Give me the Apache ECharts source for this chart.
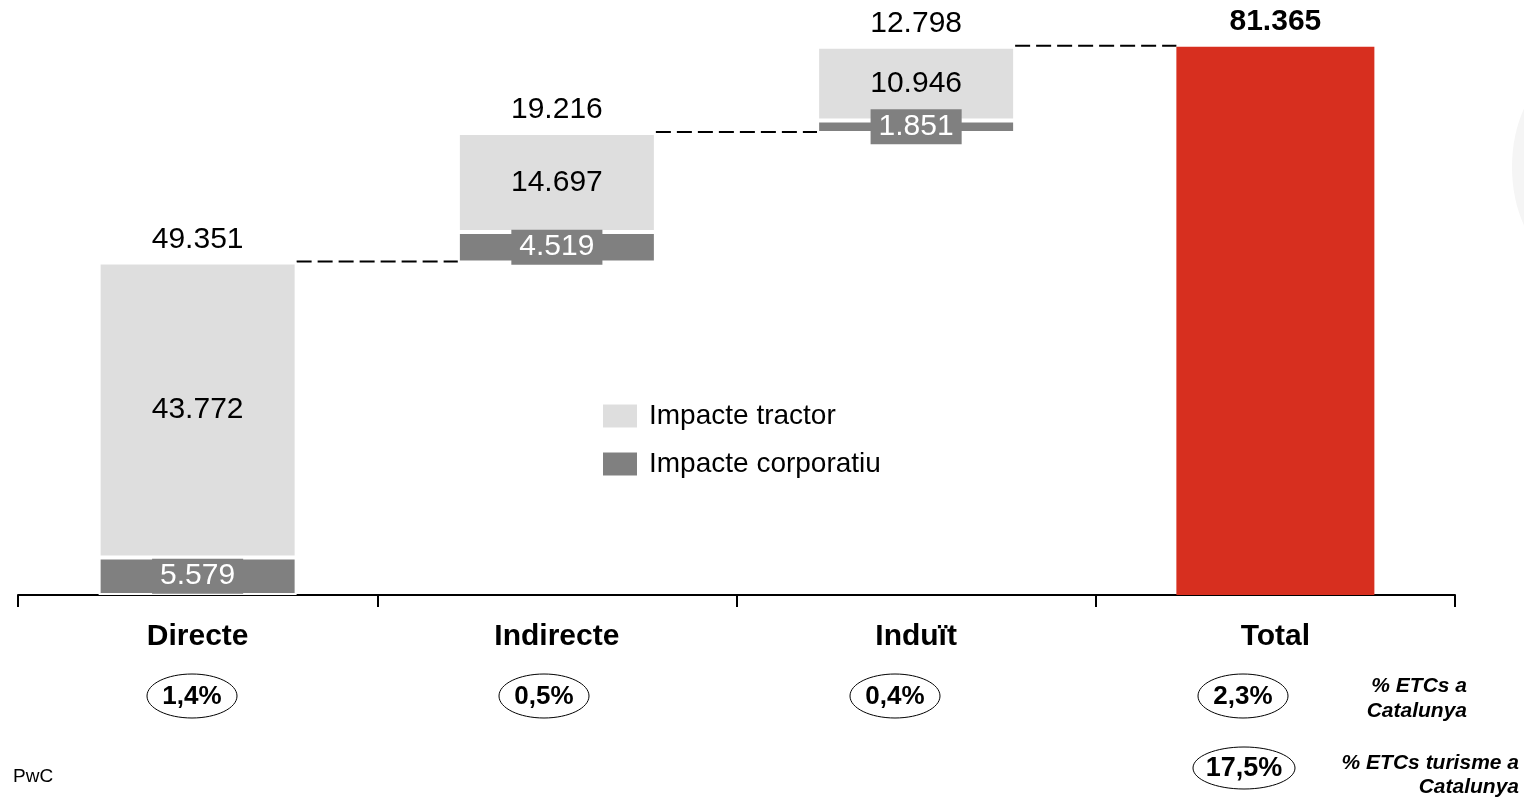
<!DOCTYPE html>
<html>
<head>
<meta charset="utf-8">
<script src="https://cdn.jsdelivr.net/npm/echarts@6/dist/echarts.min.js"></script>
<style>
html,body{margin:0;padding:0;background:#fff;}
#c{width:1524px;height:798px;}
</style>
</head>
<body>
<div id="c"></div>
<script>
// ---- data ----
var categories = ['Directe', 'Indirecte', 'Induït', 'Total'];
var corporatiu = [5579, 4519, 1851, null];
var tractor = [43772, 14697, 10946, null];
var stepTotals = [49351, 19216, 12798];
var totalValue = [null, null, null, 81365];
var pctLabels = ['1,4%', '0,5%', '0,4%', '2,3%'];
var tourismPct = '17,5%';
var sideNotes = ['% ETCs a\nCatalunya', '% ETCs turisme a\nCatalunya'];
var source = 'PwC';

// ---- derived ----
function fmt(v){ return String(v).replace(/\B(?=(\d{3})+(?!\d))/g, '.'); }
var base = [];
var running = 0;
for (var i = 0; i < categories.length; i++) {
  if (i < stepTotals.length) { base.push(running); running += stepTotals[i]; }
  else base.push(0);
}
var connectorData = stepTotals.map(function(v, i){ return [i, base[i] + v, v]; });

var FONT = '"Liberation Sans", Arial, sans-serif';
var BAR_W = 198;

var chart = echarts.init(document.getElementById('c'), null, {renderer: 'canvas'});
var option = {
  animation: false,
  backgroundColor: '#fff',
  textStyle: {fontFamily: FONT},
  grid: {left: 18, right: 69, top: 2, bottom: 203},
  legend: {
    orient: 'vertical', left: 596, top: 397,
    itemWidth: 36, itemHeight: 25, itemGap: 20,
    icon: 'rect',
    data: ['Impacte tractor', 'Impacte corporatiu'],
    textStyle: {fontSize: 28, color: '#000', fontFamily: FONT, padding: [0, 0, 0, 6]}
  },
  xAxis: {
    type: 'category', data: categories,
    axisLine: {show: true, lineStyle: {color: '#000', width: 2}},
    axisTick: {show: true, alignWithLabel: false, interval: 0, length: 12, lineStyle: {color: '#000', width: 2}},
    axisLabel: {fontSize: 30, fontWeight: 'bold', color: '#000', margin: 27, fontFamily: FONT}
  },
  yAxis: {type: 'value', min: 0, max: 88000, show: false},
  series: [
    {
      name: 'base', type: 'bar', stack: 'w', barWidth: BAR_W, silent: true,
      itemStyle: {color: 'transparent'}, data: base
    },
    {
      name: 'Impacte corporatiu', type: 'bar', stack: 'w', barWidth: BAR_W,
      itemStyle: {color: '#808080', borderColor: '#fff', borderWidth: 2},
      label: {
        show: true, position: 'inside', color: '#fff', fontSize: 30, fontFamily: FONT,
        backgroundColor: '#808080', padding: [3, 8, 2, 8],
        formatter: function(p){ return fmt(p.value); }
      },
      data: corporatiu
    },
    {
      name: 'Impacte tractor', type: 'bar', stack: 'w', barWidth: BAR_W,
      itemStyle: {color: '#dedede', borderColor: '#fff', borderWidth: 2},
      label: {
        show: true, position: 'inside', color: '#000', fontSize: 30, fontFamily: FONT,
        formatter: function(p){ return fmt(p.value); }
      },
      data: tractor
    },
    {
      name: 'Total', type: 'bar', stack: 'w', barWidth: BAR_W,
      itemStyle: {color: '#d72f1f'},
      label: {
        show: true, position: 'top', distance: 10, color: '#000', fontSize: 30, fontWeight: 'bold', fontFamily: FONT,
        formatter: function(p){ return fmt(p.value); }
      },
      data: totalValue
    },
    {
      name: 'connectors', type: 'custom', silent: true,
      renderItem: function(params, api){
        var idx = api.value(0), top = api.value(1), lbl = api.value(2);
        var p = api.coord([idx, top]);
        var band = api.size([1, 0])[0];
        var half = BAR_W / 2;
        return {
          type: 'group',
          children: [
            {type: 'text', style: {text: fmt(lbl), x: p[0], y: p[1] - 8, align: 'center', verticalAlign: 'bottom', font: '30px ' + FONT, fill: '#000'}},
            {type: 'line', shape: {x1: p[0] + half, y1: p[1] - 1, x2: p[0] + band - half, y2: p[1] - 1}, style: {stroke: '#000', lineWidth: 2, lineDash: [15, 6]}}
          ]
        };
      },
      data: connectorData
    }
  ],
  graphic: []
};
chart.setOption(option);

// annotations under the axis
var ellX = [192, 544, 895, 1243];
var g = [];
g.push({type: 'ellipse', shape: {cx: 1580, cy: 167, rx: 68, ry: 103}, style: {fill: '#f5f5f5'}, z: -10});
pctLabels.forEach(function(t, i){
  g.push({type: 'ellipse', shape: {cx: ellX[i], cy: 696, rx: 45, ry: 22}, style: {fill: 'none', stroke: '#000', lineWidth: 1}});
  g.push({type: 'text', style: {text: t, x: ellX[i], y: 697, align: 'center', verticalAlign: 'middle', font: 'bold 26px ' + FONT, fill: '#000'}});
});
g.push({type: 'ellipse', shape: {cx: 1244, cy: 768, rx: 51, ry: 21}, style: {fill: 'none', stroke: '#000', lineWidth: 1}});
g.push({type: 'text', style: {text: tourismPct, x: 1244, y: 769, align: 'center', verticalAlign: 'middle', font: 'bold 27px ' + FONT, fill: '#000'}});
g.push({type: 'text', style: {text: sideNotes[0], x: 1467, y: 699, align: 'right', verticalAlign: 'middle', font: 'italic bold 21px ' + FONT, lineHeight: 25, fill: '#000'}});
g.push({type: 'text', style: {text: sideNotes[1], x: 1519, y: 775, align: 'right', verticalAlign: 'middle', font: 'italic bold 21px ' + FONT, lineHeight: 24, fill: '#000'}});
g.push({type: 'text', style: {text: source, x: 13, y: 777, align: 'left', verticalAlign: 'middle', font: '19px ' + FONT, fill: '#000'}});
chart.setOption({graphic: g});
</script>
</body>
</html>
